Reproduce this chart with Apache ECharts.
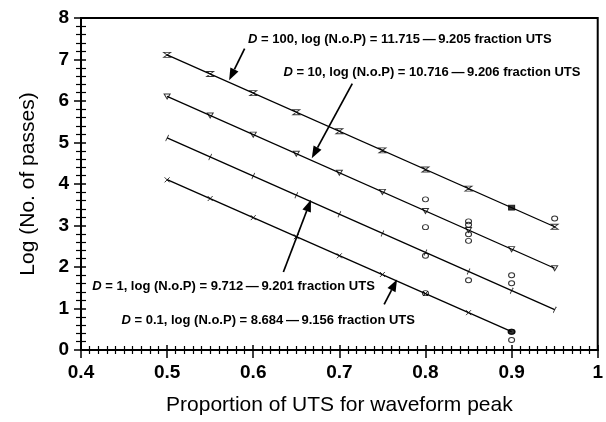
<!DOCTYPE html>
<html>
<head>
<meta charset="utf-8">
<script src="https://cdn.jsdelivr.net/npm/echarts@6/dist/echarts.min.js"></script>
<style>
  html, body { margin: 0; padding: 0; background: #fff; }
  #chart { width: 606px; height: 422px; }
</style>
</head>
<body>
<div id="chart"></div>
<script>
// Stress levels (fraction of UTS) where fitted points are plotted
const stressLevels = [0.5, 0.55, 0.6, 0.65, 0.7, 0.75, 0.8, 0.85, 0.9, 0.95];

// Fitted log(passes) at each stress level, per damage value D
const d100Points = [7.11, 6.65, 6.19, 5.73, 5.27, 4.81, 4.35, 3.89, 3.43, 2.97];
const d10Points  = [6.11, 5.65, 5.19, 4.73, 4.27, 3.81, 3.35, 2.89, 2.43, 1.97];
const d1Points   = [5.11, 4.65, 4.19, 3.73, 3.27, 2.81, 2.35, 1.89, 1.43, 0.97];
const d01Points  = [4.10, 3.65, 3.19, 2.73, 2.27, 1.82, 1.36, 0.90, 0.44];

// Measured results (stress fraction, log passes)
const measuredX = [0.8, 0.8, 0.8, 0.8, 0.85, 0.85, 0.85, 0.85, 0.85, 0.9, 0.9, 0.9, 0.9, 0.95];
const measuredY = [3.63, 2.96, 2.27, 1.37, 3.10, 3.02, 2.79, 2.63, 1.68, 1.80, 1.61, 0.44, 0.24, 3.17];

// Regression lines: log(N.o.P) = a - b * fraction UTS
const fitD = ['100', '10', '1', '0.1'];
const fitIntercepts = [11.715, 10.716, 9.712, 8.684];
const fitSlopes = [9.205, 9.206, 9.201, 9.156];
const fitStart = [0.5, 0.5, 0.5, 0.5];
const fitEnd = [0.95, 0.95, 0.95, 0.9];

// Axis tick labels
const xTickLabels = ['0.4', '0.5', '0.6', '0.7', '0.8', '0.9', '1'];
const yTickLabels = ['0', '1', '2', '3', '4', '5', '6', '7', '8'];

const FONT = '"Liberation Sans", Arial, Helvetica, sans-serif';

const chart = echarts.init(document.getElementById('chart'), null, { renderer: 'canvas' });

function pairs(xs, ys) { return ys.map((y, i) => [xs[i], y]); }

const symHourglass = 'path://M-1,-1L1,-1L-1,1L1,1Z';
const symTriangle  = 'path://M-1,-0.9L1,-0.9L0,0.9Z';
const symTick      = 'path://M0.2,-1L-0.2,1';
const symCross     = 'path://M-1,-1L1,1M-1,1L1,-1';

function markerSeries(points, symbol, size, special) {
  return {
    type: 'scatter',
    data: pairs(stressLevels, points).map((p, i) => {
      if (special && special.index === i) {
        return { value: p, symbol: special.symbol, symbolSize: special.size,
                 itemStyle: { color: '#000', borderColor: '#000', borderWidth: 1 } };
      }
      return p;
    }),
    symbol: symbol,
    symbolSize: size,
    itemStyle: { color: 'rgba(255,255,255,0)', borderColor: '#000', borderWidth: 1 },
    z: 4,
    silent: true
  };
}

const fitSeries = fitD.map((d, k) => ({
  type: 'line',
  data: [
    [fitStart[k], fitIntercepts[k] - fitSlopes[k] * fitStart[k]],
    [fitEnd[k], fitIntercepts[k] - fitSlopes[k] * fitEnd[k]]
  ],
  showSymbol: false,
  lineStyle: { color: '#000', width: 1.3 },
  z: 3,
  silent: true
}));

function baseX(extra) {
  return Object.assign({
    type: 'value', min: 0.4, max: 1, interval: 0.1, position: 'bottom',
    splitLine: { show: false },
    minorSplitLine: { show: false }
  }, extra);
}
function baseY(extra) {
  return Object.assign({
    type: 'value', min: 0, max: 8, interval: 1, position: 'left',
    splitLine: { show: false },
    minorSplitLine: { show: false }
  }, extra);
}

const option = {
  backgroundColor: '#fff',
  animation: false,
  grid: {
    left: 81, right: 4, top: 18, bottom: 72,
    show: true, borderColor: '#000', borderWidth: 2, backgroundColor: 'transparent'
  },
  xAxis: [
    baseX({
      name: 'Proportion of UTS for waveform peak',
      nameLocation: 'middle', nameGap: 45,
      nameTextStyle: { color: '#000', fontSize: 21, fontFamily: FONT },
      axisLine: { show: true, lineStyle: { color: '#000', width: 2 } },
      axisTick: { show: true, inside: false, length: 8, lineStyle: { color: '#000', width: 1.5 } },
      minorTick: { show: true, splitNumber: 10, length: 4, lineStyle: { color: '#000', width: 1.2 } },
      axisLabel: {
        color: '#000', fontSize: 19, fontWeight: 'bold', fontFamily: FONT, margin: 13,
        formatter: (v) => xTickLabels[Math.round((v - 0.4) * 10)]
      }
    }),
    baseX({
      axisLine: { show: false },
      axisTick: { show: true, inside: true, length: 5, lineStyle: { color: '#000', width: 1.5 } },
      minorTick: { show: true, splitNumber: 10, length: 4, lineStyle: { color: '#000', width: 1.2 } },
      axisLabel: { show: false }
    })
  ],
  yAxis: [
    baseY({
      name: 'Log (No. of passes)',
      nameLocation: 'middle', nameGap: 42,
      nameTextStyle: { color: '#000', fontSize: 21, fontFamily: FONT },
      axisLine: { show: true, lineStyle: { color: '#000', width: 2 } },
      axisTick: { show: true, inside: false, length: 7, lineStyle: { color: '#000', width: 1.5 } },
      minorTick: { show: true, splitNumber: 5, length: 5, lineStyle: { color: '#000', width: 1.2 } },
      axisLabel: {
        color: '#000', fontSize: 19, fontWeight: 'bold', fontFamily: FONT, margin: 12,
        formatter: (v) => yTickLabels[Math.round(v)]
      }
    }),
    baseY({
      axisLine: { show: false },
      axisTick: { show: true, inside: true, length: 5, lineStyle: { color: '#000', width: 1.5 } },
      minorTick: { show: true, splitNumber: 5, length: 5, lineStyle: { color: '#000', width: 1.2 } },
      axisLabel: { show: false }
    })
  ],
  series: [
    ...fitSeries,
    markerSeries(d100Points, symHourglass, [7, 5], { index: 8, symbol: 'rect', size: [6, 5] }),
    markerSeries(d10Points, symTriangle, [6, 5]),
    markerSeries(d1Points, symTick, [3, 6]),
    markerSeries(d01Points, symCross, [5, 5], { index: 8, symbol: 'circle', size: [7, 5] }),
    {
      type: 'scatter',
      data: pairs(measuredX, measuredY),
      symbol: 'circle',
      symbolSize: [6, 5],
      itemStyle: { color: 'rgba(255,255,255,0)', borderColor: '#000', borderWidth: 1 },
      z: 5,
      silent: true
    }
  ]
};

chart.setOption(option);

// Equation annotations with arrows pointing at their fitted line
const noteAnchors = [[0.594, 7.48], [0.635, 6.68], [0.413, 1.54], [0.447, 0.72]];
const arrowTails = [[0.590, 7.26], [0.715, 6.42], [0.635, 1.88], [0.752, 1.10]];
const arrowTips  = [[0.572, 6.50], [0.668, 4.62], [0.667, 3.62], [0.767, 1.70]];

function fmt(n) { return n.toFixed(3); }

const graphics = [];
fitD.forEach((d, k) => {
  const p = chart.convertToPixel({ gridIndex: 0 }, noteAnchors[k]);
  graphics.push({
    type: 'text',
    x: p[0], y: p[1],
    style: {
      text: '{i|D} = ' + d + ', log (N.o.P) = ' + fmt(fitIntercepts[k]) + '\u2009\u2014\u2009' + fmt(fitSlopes[k]) + ' fraction UTS',
      fill: '#000',
      font: 'bold 13px ' + FONT,
      verticalAlign: 'middle',
      align: 'left',
      rich: { i: { fontStyle: 'italic', fontWeight: 'bold', fontSize: 13, fontFamily: FONT, fill: '#000' } }
    },
    z: 10
  });
  const t = chart.convertToPixel({ gridIndex: 0 }, arrowTails[k]);
  const h = chart.convertToPixel({ gridIndex: 0 }, arrowTips[k]);
  const dx = h[0] - t[0], dy = h[1] - t[1];
  const len = Math.sqrt(dx * dx + dy * dy);
  const ux = dx / len, uy = dy / len;
  const headLen = 12, headHalf = 4.5;
  const bx = h[0] - ux * headLen, by = h[1] - uy * headLen;
  graphics.push({
    type: 'line',
    shape: { x1: t[0], y1: t[1], x2: bx, y2: by },
    style: { stroke: '#000', lineWidth: 1.7 },
    z: 10
  });
  graphics.push({
    type: 'polygon',
    shape: { points: [[h[0], h[1]], [bx - uy * headHalf, by + ux * headHalf], [bx + uy * headHalf, by - ux * headHalf]] },
    style: { fill: '#000' },
    z: 10
  });
});
chart.setOption({ graphic: graphics });
</script>
</body>
</html>
